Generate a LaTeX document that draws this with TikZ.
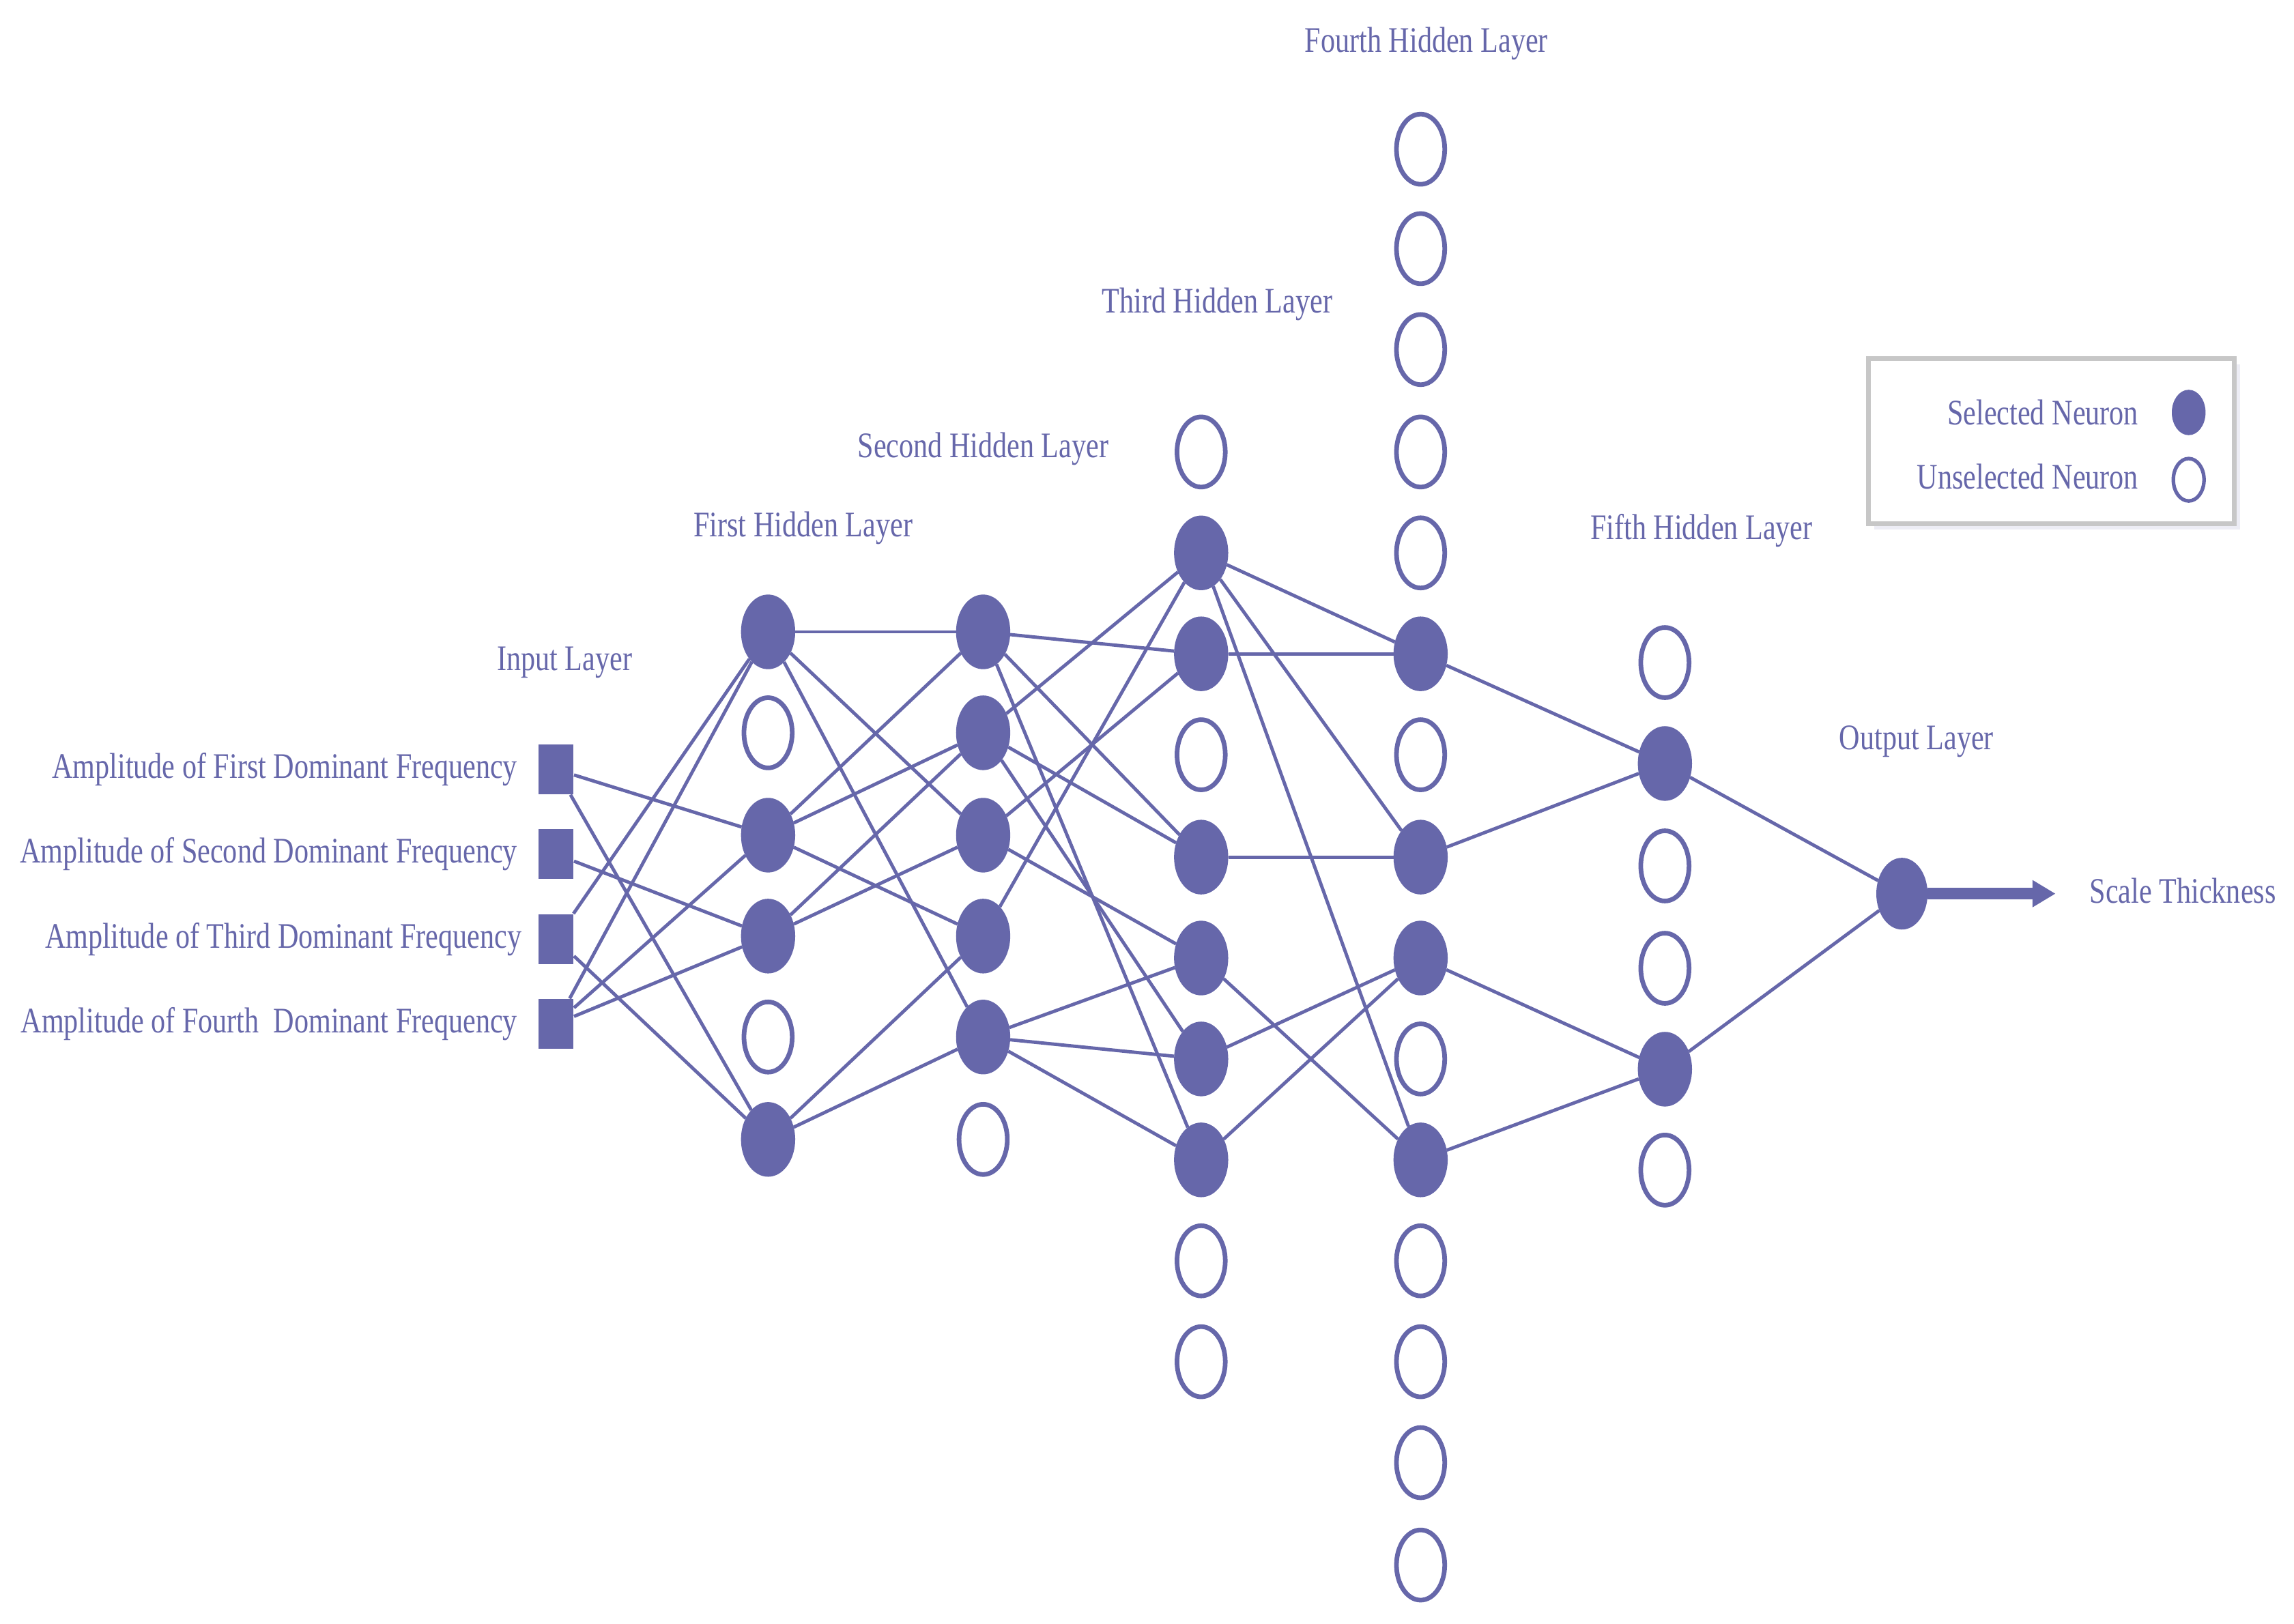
\documentclass[tikz,border=0pt]{standalone}
\usepackage{fontspec}
\setmainfont{Liberation Serif}[FakeStretch=0.8]
\usetikzlibrary{shapes.geometric,arrows.meta}
\definecolor{nn}{RGB}{102,103,170}
\begin{document}
\begin{tikzpicture}[x=0.02cm,y=-0.02cm,
  sel/.style={ellipse,fill=nn,draw=nn,line width=0.6pt,minimum width=0.72cm,minimum height=1.0cm,inner sep=0pt},
  uns/.style={ellipse,fill=white,draw=nn,line width=1.8pt,minimum width=0.66cm,minimum height=0.96cm,inner sep=0pt},
  inp/.style={rectangle,fill=nn,minimum width=0.48cm,minimum height=0.68cm,inner sep=0pt},
  lbl/.style={text=nn,font=\fontsize{14}{16}\selectfont,inner sep=0pt},
  con/.style={draw=nn,line width=1.3pt}]
\useasboundingbox (0,0) rectangle (1568,1110);
% input
\foreach \i/\y in {1/526,2/584,3/642,4/700} \node[inp] (i\i) at (380,\y) {};
\node[lbl,anchor=east] (t1) at (354,526) {Amplitude of First Dominant Frequency};
\node[lbl,anchor=east] (t2) at (354,584) {Amplitude of Second Dominant Frequency};
\node[lbl,anchor=east] (t3) at (357,642) {Amplitude of Third Dominant Frequency};
\node[lbl,anchor=east] (t4) at (354,700) {Amplitude of Fourth\ \ Dominant Frequency};
% layer 1
\node[sel] (a1) at (525,432) {}; \node[uns] (a2) at (525,501) {};
\node[sel] (a3) at (525,571) {}; \node[sel] (a4) at (525,640) {};
\node[uns] (a5) at (525,709) {}; \node[sel] (a6) at (525,779) {};
% layer 2
\foreach \i/\y in {1/432,2/501,3/571,4/640,5/709} \node[sel] (b\i) at (672,\y) {};
\node[uns] (b6) at (672,779) {};
% layer 3
\foreach \i/\y/\s in {1/309/uns,2/378/sel,3/447/sel,4/516/uns,5/586/sel,6/655/sel,7/724/sel,8/793/sel,9/862/uns,10/931/uns}
  \node[\s] (c\i) at (821,\y) {};
% layer 4
\foreach \i/\y/\s in {1/102/uns,2/170/uns,3/239/uns,4/309/uns,5/378/uns,6/447/sel,7/516/uns,8/586/sel,9/655/sel,10/724/uns,11/793/sel,12/862/uns,13/931/uns,14/1000/uns,15/1070/uns}
  \node[\s] (d\i) at (971,\y) {};
% layer 5
\foreach \i/\y/\s in {1/453/uns,2/522/sel,3/592/uns,4/662/uns,5/731/sel,6/800/uns}
  \node[\s] (e\i) at (1138,\y) {};
% output
\node[sel,minimum width=0.68cm,minimum height=0.96cm] (o) at (1300,611) {};
\coordinate (oe) at (1405,611);
% connectors
\begin{scope}[on background layer/.style={}]
\foreach \p/\q in {i1/a3,i1/a6,i2/a4,i3/a1,i3/a6,i4/a1,i4/a3,i4/a4,
  a1/b1,a1/b3,a1/b5,a3/b1,a3/b2,a3/b4,a4/b2,a4/b3,a6/b4,a6/b5,
  b1/c3,b1/c5,b1/c8,b2/c2,b2/c5,b2/c7,b3/c3,b3/c6,b4/c2,b5/c6,b5/c7,b5/c8,
  c2/d6,c2/d8,c2/d11,c3/d6,c5/d8,c6/d11,c7/d9,c8/d9,
  d6/e2,d8/e2,d9/e5,d11/e5,e2/o,e5/o}
  \draw[con] (\p) -- (\q);
\end{scope}
\draw[draw=nn,line width=4.5pt,-{Triangle[length=9pt,width=10pt]}] (o.east) -- (oe);
% labels
\node[lbl] (l0) at (386,453) {Input Layer};
\node[lbl] (l1) at (549,361) {First Hidden Layer};
\node[lbl] (l2) at (672,307) {Second Hidden Layer};
\node[lbl] (l3) at (832,208) {Third Hidden Layer};
\node[lbl] (l4) at (975,30) {Fourth Hidden Layer};
\node[lbl] (l5) at (1163,363) {Fifth Hidden Layer};
\node[lbl] (l6) at (1310,507) {Output Layer};
\node[lbl,anchor=west] (l7) at (1428,609) {Scale Thickness};
% legend
\fill[nn!12] (1281,249) rectangle (1531,362);
\draw[draw=black!22,fill=white,line width=1.8pt] (1277,245) rectangle (1527,358);
\node[lbl,anchor=east] (g1) at (1462,282) {Selected Neuron};
\node[lbl,anchor=east] (g2) at (1462,326) {Unselected Neuron};
\node[sel,minimum width=0.44cm,minimum height=0.6cm] (gs) at (1496,282) {};
\node[uns,minimum width=0.42cm,minimum height=0.58cm,line width=1.4pt] (gu) at (1496,328) {};
\end{tikzpicture}
\end{document}
